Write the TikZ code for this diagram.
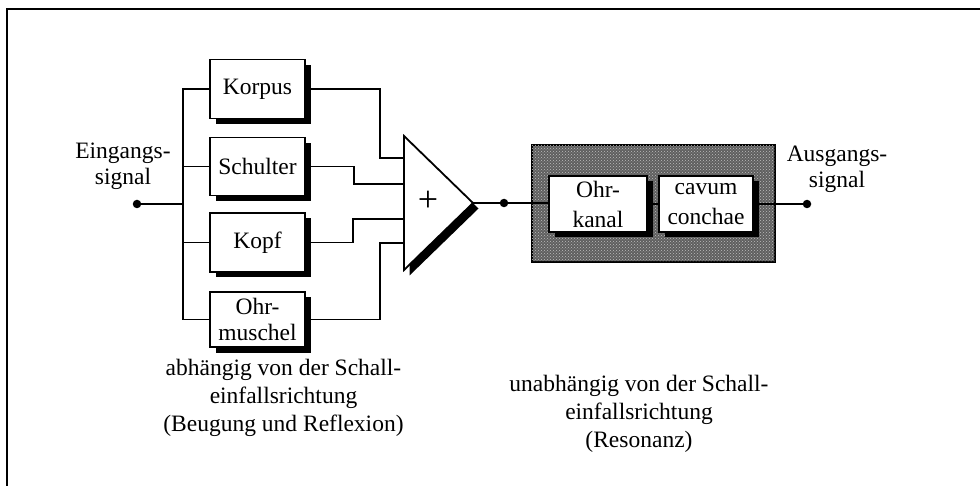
\documentclass[tikz,border=0pt]{standalone}
\usepackage{fontspec}
\setmainfont{Liberation Serif}
\usetikzlibrary{shadows,patterns}
\begin{document}
\begin{tikzpicture}[x=1pt,y=-1pt,
  txt/.style={font=\fontsize{23.5}{26}\selectfont, align=center, inner sep=0pt},
  wire/.style={line width=1.8pt},
  blk/.style={txt, draw, line width=1.8pt, fill=white,
    drop shadow={shadow xshift=5.5pt, shadow yshift=-5.5pt, fill=black, opacity=1}},
  dot/.style={circle, fill=black, inner sep=0pt, minimum size=8.5pt},
  resbox/.style={draw, line width=1.8pt, fill={rgb,255:red,95;green,95;blue,95},
    postaction={pattern=crosshatch dots, pattern color={rgb,255:red,190;green,190;blue,190}},
    inner sep=0pt}
]
\useasboundingbox (0,0) rectangle (980,486);

% frame
\draw[line width=2.5pt] (980,9) -- (7,9) -- (7,486);

% direction-dependent filters
\node[blk, minimum width=95pt, minimum height=59pt] (korpus) at (257.5,89) {Korpus};
\node[blk, minimum width=95pt, minimum height=58pt] (schulter) at (257.5,166.5) {Schulter};
\node[blk, minimum width=95pt, minimum height=59pt] (kopf) at (257.5,242.5) {Kopf};
\node[blk, minimum width=95pt, minimum height=55pt] (muschel) at (257.5,319.5) {Ohr-\\muschel};

% input and distribution bus
\node[dot] (in) at (137,204) {};
\coordinate (bus) at (183,204);
\draw[wire] (korpus.west) -- (korpus.west -| bus) -- (muschel.west -| bus) -- (muschel.west);
\draw[wire] (schulter.west) -- (schulter.west -| bus);
\draw[wire] (kopf.west) -- (kopf.west -| bus);
\draw[wire] (in) -- (bus);
\node[txt] (inlabel) at (123,166) {Eingangs-\\signal};

% summing amplifier
\coordinate (tl) at (404,136);
\coordinate (bl) at (404,270);
\coordinate (tip) at (473,203);
\fill[black] ([shift={(5.5,5.5)}]tl) -- ([shift={(5.5,5.5)}]bl) -- ([shift={(5.5,5.5)}]tip) -- cycle;
\draw[wire, fill=white, line join=miter] (tl) -- (bl) -- (tip) -- cycle;
\node[font=\fontsize{36}{36}\selectfont, inner sep=0pt] (plus) at (428,201) {+};

\coordinate (s1) at (404,158);
\coordinate (s2) at (404,184);
\coordinate (s3) at (404,219);
\coordinate (s4) at (404,243);
\draw[wire] (korpus.east) -- ++(74,0) |- (s1);
\draw[wire] (schulter.east) -- ++(48,0) |- (s2);
\draw[wire] (kopf.east) -- ++(47,0) |- (s3);
\draw[wire] (muschel.east) -- ++(74,0) |- (s4);

% direction-independent resonators
\node[resbox, minimum width=243pt, minimum height=117pt] (res) at (653.5,203.5) {};
\node[dot] (mid) at (504,203) {};
\node[dot] (out) at (807,204) {};
\draw[wire] (tip) -- (mid) -- (res.west |- mid) -- ++(17,0);
\node[blk, font=\fontsize{23.5}{30}\selectfont, minimum width=98pt, minimum height=56pt] (kanal) at (598,204) {Ohr-\\kanal};
\node[blk, font=\fontsize{23.5}{30}\selectfont, minimum width=94pt, minimum height=56pt] (cavum) at (706,204) {cavum\\conchae};
\draw[wire] (kanal.east) -- (cavum.west);
\draw[wire] (cavum.east) -- (out);
\node[txt] (outlabel) at (837,169) {Ausgangs-\\signal};

% captions
\node[txt, font=\fontsize{23.5}{28}\selectfont] (capl) at (283.5,398) {abhängig von der Schall-\\einfallsrichtung\\(Beugung und Reflexion)};
\node[txt, font=\fontsize{23.5}{28}\selectfont] (capr) at (639,413.5) {unabhängig von der Schall-\\einfallsrichtung\\(Resonanz)};
\end{tikzpicture}
\end{document}
